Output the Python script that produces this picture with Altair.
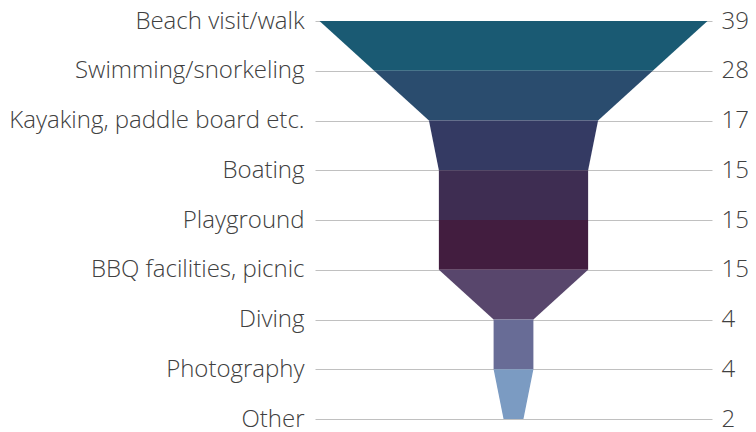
import json
import altair as alt
import pandas as pd

categories = ["Beach visit/walk", "Swimming/snorkeling", "Kayaking, paddle board etc.",
              "Boating", "Playground", "BBQ facilities, picnic", "Diving",
              "Photography", "Other"]
values = [39, 28, 17, 15, 15, 15, 4, 4, 2]
colors = ["#1A5A73", "#2A4C6E", "#343A63", "#3E2D52", "#421D3F",
          "#58466C", "#686C96", "#7B9BC2"]

rows = []
for i in range(len(categories) - 1):
    for j in (i, i + 1):
        rows.append({"seg": i, "pos": j, "lo": -values[j] / 2, "hi": values[j] / 2})
seg_df = pd.DataFrame(rows)
lab_df = pd.DataFrame({"pos": list(range(len(categories))), "val": values})

cat_expr = "[" + ",".join(json.dumps(c) for c in categories) + "][datum.value]"
val_expr = "[" + ",".join(json.dumps(str(v)) for v in values) + "][datum.value]"

n = len(categories) - 1
yscale = alt.Scale(domain=[0, n], reverse=True, nice=False, zero=False)
xscale = alt.Scale(domain=[-19.95, 19.95], nice=False, zero=False)

common = dict(domain=False, ticks=False, labelFontSize=24, labelFont="Open Sans",
              labelFontWeight=300, labelColor="#404040", title=None, labelLimit=500,
              values=list(range(len(categories))), labelOverlap=False)

funnel = alt.Chart(seg_df).mark_area(orient="horizontal", interpolate="linear").encode(
    y=alt.Y("pos:Q", scale=yscale,
            axis=alt.Axis(orient="left", labelExpr=cat_expr, grid=True,
                          gridColor="#c0c0c0", gridWidth=1, labelPadding=11, **common)),
    x=alt.X("lo:Q", scale=xscale, axis=None),
    x2="hi:Q",
    color=alt.Color("seg:N", scale=alt.Scale(domain=list(range(n)), range=colors), legend=None),
)

right = alt.Chart(lab_df).mark_point(opacity=0).encode(
    y=alt.Y("pos:Q", scale=yscale,
            axis=alt.Axis(orient="right", labelExpr=val_expr, grid=False,
                          labelPadding=9, **common)),
)

chart = alt.layer(funnel, right).resolve_axis(y="independent").properties(
    width=397, height=398,
    autosize=alt.AutoSizeParams(type="none"),
    padding={"left": 307, "top": 13, "right": 36, "bottom": 12},
).configure_view(strokeWidth=0)

chart.save("out.html", embed_options={"renderer": "svg", "actions": False})
